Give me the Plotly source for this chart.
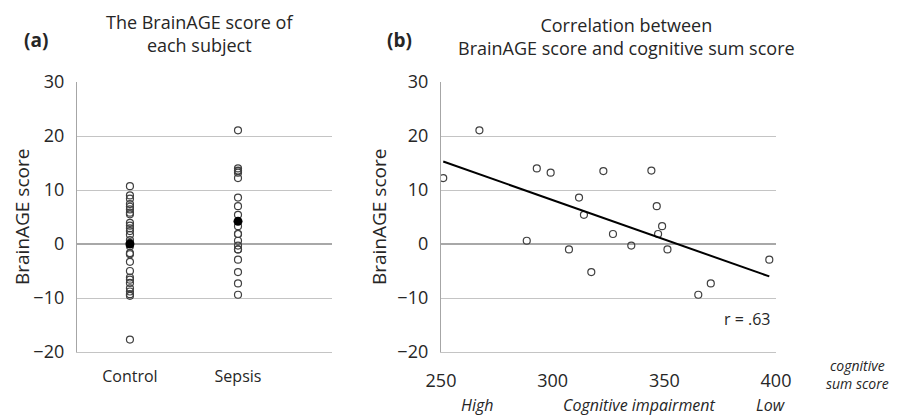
import numpy as np
import plotly.graph_objects as go

W, H = 911, 415

# ---------------- data ----------------
groups = ["Control", "Sepsis"]
control_scores = [10.7, 9.0, 8.4, 7.4, 6.9, 6.4, 5.8, 5.5, 3.9, 3.4, 2.9, 2.4, 1.7,
                  0.7, 0.2, -0.4, -1.7, -1.9, -3.3, -5.0, -6.2, -6.6, -7.2, -8.2,
                  -8.8, -9.3, -9.6, -17.7]
sepsis_cognitive = [251.0, 267.2, 288.4, 292.9, 299.1, 307.3, 311.8, 314.0, 317.3,
                    322.7, 327.0, 335.2, 344.2, 346.6, 349.0, 347.2, 351.4, 397.0,
                    365.2, 370.8]
sepsis_scores = [12.2, 21.05, 0.6, 14.0, 13.2, -1.0, 8.6, 5.4, -5.2, 13.5, 1.85,
                 -0.3, 13.6, 7.0, 3.3, 1.85, -1.0, -2.9, -9.4, -7.3]
group_means = [0.0, 4.2]
y_ticks = [-20, -10, 0, 10, 20, 30]
x_ticks_b = [250, 300, 350, 400]
r_label = "r = .63"

FONT = "Open Sans"
TXT = "#262626"
GRID = "#c4c4c4"
AXIS = "#a6a6a6"
MK = "#404040"

fig = go.Figure()

# panel (a): individual scores
fig.add_trace(go.Scatter(
    x=[0] * len(control_scores), y=control_scores, mode="markers",
    marker=dict(symbol="circle-open", size=7, color=MK, line=dict(width=1.2)),
    xaxis="x", yaxis="y", showlegend=False, hoverinfo="y"))
fig.add_trace(go.Scatter(
    x=[1] * len(sepsis_scores), y=sepsis_scores, mode="markers",
    marker=dict(symbol="circle-open", size=7, color=MK, line=dict(width=1.2)),
    xaxis="x", yaxis="y", showlegend=False, hoverinfo="y"))
fig.add_trace(go.Scatter(
    x=[0, 1], y=group_means, mode="markers",
    marker=dict(symbol="circle", size=9, color="black"),
    xaxis="x", yaxis="y", showlegend=False, hoverinfo="y"))

# panel (b): correlation
fig.add_trace(go.Scatter(
    x=sepsis_cognitive, y=sepsis_scores, mode="markers",
    marker=dict(symbol="circle-open", size=7, color=MK, line=dict(width=1.2)),
    xaxis="x2", yaxis="y2", showlegend=False))
xs = np.array(sepsis_cognitive)
ys = np.array(sepsis_scores)
slope, icpt = np.polyfit(xs, ys, 1)
xl = np.array([xs.min(), xs.max()])
fig.add_trace(go.Scatter(
    x=xl, y=slope * xl + icpt, mode="lines",
    line=dict(color="black", width=2),
    xaxis="x2", yaxis="y2", showlegend=False, hoverinfo="skip"))

ydom = [1 - 352 / H, 1 - 82 / H]
yax = dict(range=[-20, 30], tickvals=y_ticks,
           ticktext=[("\u2212" + str(-v)) if v < 0 else str(v) for v in y_ticks],
           showgrid=True, gridcolor=GRID, gridwidth=1.3,
           zeroline=True, zerolinecolor="#a8a8a8", zerolinewidth=1.5,
           showline=True, linecolor=AXIS, linewidth=1.3, automargin=False,
           ticks="outside", ticklen=8, tickcolor="rgba(0,0,0,0)",
           tickfont=dict(family=FONT, size=18, color=TXT), domain=ydom, fixedrange=True)

fig.update_layout(
    width=W, height=H, margin=dict(l=0, r=0, t=0, b=0, autoexpand=False),
    paper_bgcolor="white", plot_bgcolor="white",
    font=dict(family=FONT, color=TXT),
    xaxis=dict(domain=[77 / W, 332 / W], range=[-0.49, 1.87], tickvals=[0, 1],
               ticktext=groups, showgrid=False, zeroline=False, automargin=False,
               showline=True, linecolor=GRID, linewidth=1.3,
               ticks="outside", ticklen=10, tickcolor="rgba(0,0,0,0)",
               tickfont=dict(family=FONT, size=16, color=TXT), anchor="y"),
    yaxis=dict(**yax, anchor="x"),
    xaxis2=dict(domain=[441 / W, 776 / W], range=[250, 400], tickvals=x_ticks_b,
                showgrid=False, zeroline=False, automargin=False,
                showline=True, linecolor=GRID, linewidth=1.3,
                ticks="outside", ticklen=12, tickcolor="rgba(0,0,0,0)",
                tickfont=dict(family=FONT, size=18, color=TXT), anchor="y2"),
    yaxis2=dict(**yax, anchor="x2"),
)

ann = []
def add(text, x, y, size, **kw):
    d = dict(text=text, x=x / W, y=1 - y / H, xref="paper", yref="paper",
             showarrow=False, font=dict(family=FONT, size=size, color=TXT),
             xanchor="center", yanchor="middle")
    d.update(kw)
    ann.append(d)

add("<b>(a)</b>", 36, 40, 19)
add("<b>(b)</b>", 399, 40, 19)
add("The BrainAGE score of<br>each subject", 199, 33, 18)
add("Correlation between<br>BrainAGE score and cognitive sum score", 626, 36, 18)
add("BrainAGE score", 22, 217, 19, textangle=-90)
add("BrainAGE score", 379, 217, 19, textangle=-90)
add(r_label, 747, 319, 16)
add("<i>High</i>", 477, 405, 16)
add("<i>Cognitive impairment</i>", 639, 405, 16)
add("<i>Low</i>", 771, 405, 16)
add("<i>cognitive<br>sum score</i>", 857, 374, 14)
fig.update_layout(annotations=ann)

fig.write_html("out.html", config={"displayModeBar": False},
               post_script="document.body.style.margin='0';document.body.style.padding='0';")
